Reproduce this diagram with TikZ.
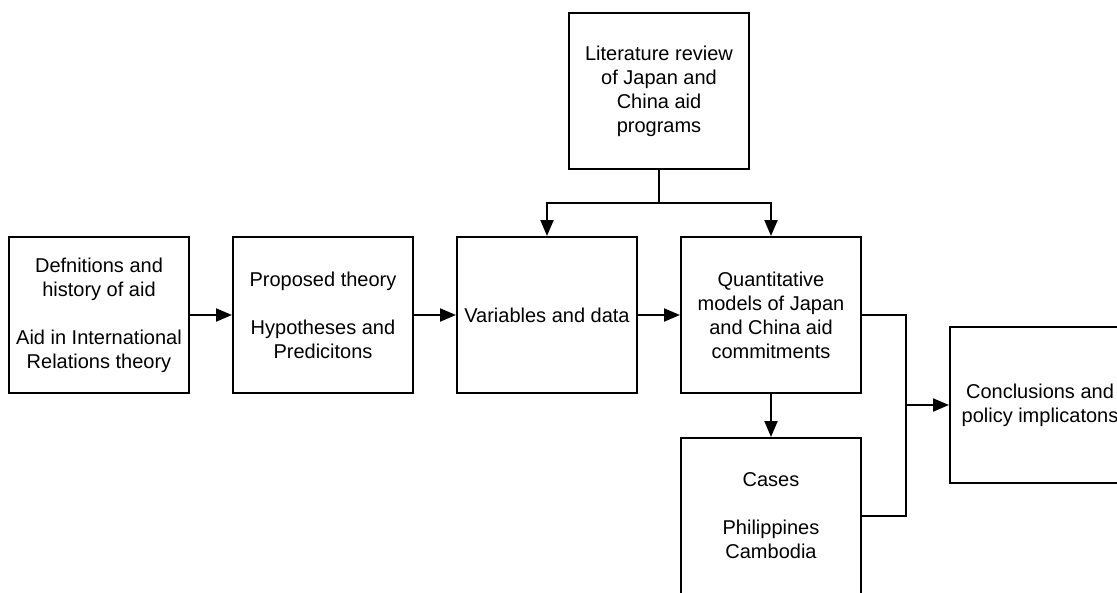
\documentclass[tikz,border=0pt]{standalone}
\usepackage{fontspec}
\setmainfont{Liberation Sans}
\usetikzlibrary{arrows.meta}
\begin{document}
\begin{tikzpicture}[x=1pt,y=-1pt,
  box/.style={draw,line width=2pt,rectangle,minimum width=180pt,minimum height=156pt,inner sep=0pt,align=center,font=\fontsize{20}{24}\selectfont},
  conn/.style={line width=2pt},
  arr/.style={line width=2pt,-{Triangle[length=16pt,width=13pt]}}]
\useasboundingbox (0,0) rectangle (1117,592);
\clip (0,0) rectangle (1117,592);
\node[box] (b1) at (99,315) {Defnitions and\\history of aid\\[24pt]Aid in International\\Relations theory};
\node[box] (b2) at (323,315) {Proposed theory\\[24pt]Hypotheses and\\Predicitons};
\node[box] (b3) at (547,315) {Variables and data};
\node[box] (b4) at (771,315) {Quantitative\\models of Japan\\and China aid\\commitments};
\node[box] (top) at (659,91) {Literature review\\of Japan and\\China aid\\programs};
\node[box] (cases) at (771,516) {Cases\\[24pt]Philippines\\Cambodia};
\node[box] (concl) at (1040,405) {Conclusions and\\policy implicatons};
\coordinate (split) at (659,203);
\coordinate (jn) at (906,405);
\draw[arr] (b1.east) -- (b2.west);
\draw[arr] (b2.east) -- (b3.west);
\draw[arr] (b3.east) -- (b4.west);
\draw[conn] (top.south) -- (split);
\draw[arr] (split) -| (b3.north);
\draw[arr] (split) -| (b4.north);
\draw[arr] (b4.south) -- (cases.north);
\draw[conn] (b4.east) -| (jn);
\draw[conn] (cases.east) -| (jn);
\draw[arr] (jn) -- (concl.west);
\end{tikzpicture}
\end{document}
